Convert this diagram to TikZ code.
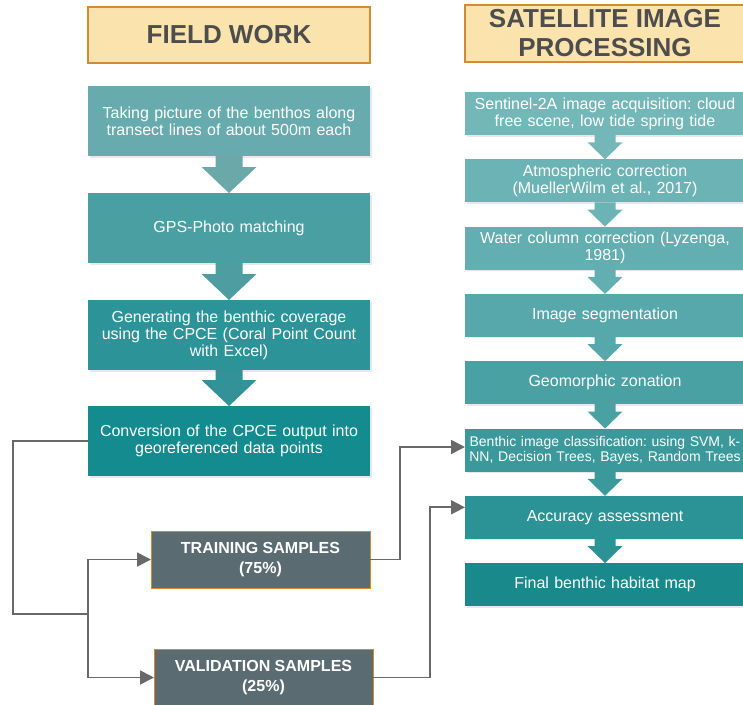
\documentclass[tikz,border=0pt]{standalone}
\usepackage{fontspec}
\setmainfont{Liberation Sans}
\usetikzlibrary{arrows.meta,positioning,calc,shadows}
\frenchspacing
\definecolor{hdrfill}{HTML}{FBE3AE}
\definecolor{hdrline}{HTML}{D68A2E}
\definecolor{hdrtext}{HTML}{4D4D4D}
\definecolor{samplefill}{HTML}{5A6B72}
\definecolor{linkgray}{HTML}{696969}
\definecolor{f1c}{HTML}{68ABAE}
\definecolor{f2c}{HTML}{4A9FA3}
\definecolor{f3c}{HTML}{2C9499}
\definecolor{f4c}{HTML}{138B8F}
\definecolor{s1c}{HTML}{74B7B9}
\definecolor{s2c}{HTML}{6CB3B5}
\definecolor{s3c}{HTML}{62AEB0}
\definecolor{s4c}{HTML}{57A8AB}
\definecolor{s5c}{HTML}{4AA1A4}
\definecolor{s6c}{HTML}{3B999C}
\definecolor{s7c}{HTML}{2B9295}
\definecolor{s8c}{HTML}{1A898C}
\tikzset{
  basic/.style  = {rectangle, outer sep=0pt, inner sep=3pt, align=center,
  font=\fontsize{16}{17}\selectfont},
  title/.style  = {basic, draw=hdrline, line width=1.4pt, fill=hdrfill, text=hdrtext,
  font=\bfseries\fontsize{26}{29}\selectfont, minimum width=282pt, minimum height=56pt},
  fstep/.style  = {basic, text=white, minimum width=282pt, text width=274pt,
  minimum height=70pt, drop shadow={shadow xshift=1.5pt, shadow yshift=-1.5pt, opacity=.18}},
  sstep/.style  = {basic, text=white, minimum width=280pt, text width=274pt,
  minimum height=43pt, drop shadow={shadow xshift=1.5pt, shadow yshift=-1.5pt, opacity=.18}},
  sample/.style = {basic, draw=hdrline, line width=1pt, fill=samplefill, text=white,
  font=\bfseries\fontsize{16}{20}\selectfont, minimum width=219pt, minimum height=57pt},
  line/.style   = {draw=linkgray, line width=1.7pt},
  link/.style   = {line, -{Triangle[length=14pt,width=14pt]}}
}
% block arrow: from, to, shaft half width, head half width, head length, colour
\newcommand{\blockarr}[6]{%
  \fill[#6] ($(#1.south)+(-#3,0pt)$) -- ($(#1.south)+(#3,0pt)$)
    -- ($(#2.north)+(#3,#5)$) -- ($(#2.north)+(#4,#5)$) -- (#2.north)
    -- ($(#2.north)+(-#4,#5)$) -- ($(#2.north)+(-#3,#5)$) -- cycle;}

\begin{document}
\begin{tikzpicture}[x=1pt, y=-1pt]
  \useasboundingbox (0,0) rectangle (743,704);

% field work column
  \node[title] (hdrL) at (229,35) {FIELD WORK};
  \node[fstep, fill=f1c] (f1) at (229,121)
    {Taking picture of the benthos along\\transect lines of about 500m each};
  \node[fstep, fill=f2c, below=37pt of f1] (f2) {GPS-Photo matching};
  \node[fstep, fill=f3c, below=37pt of f2] (f3)
    {Generating the benthic coverage\\using the CPCE (Coral Point Count\\with Excel)};
  \node[fstep, fill=f4c, below=36pt of f3] (f4)
    {Conversion of the CPCE output into\\georeferenced data points};

  \blockarr{f1}{f2}{13.5pt}{27.5pt}{26pt}{f1c!92!gray}
  \blockarr{f2}{f3}{13.5pt}{27.5pt}{26pt}{f2c!92!gray}
  \blockarr{f3}{f4}{13.5pt}{27.5pt}{26pt}{f3c!92!gray}

% samples
  \node[sample] (train) at (260.5,559.5) {TRAINING SAMPLES\\(75\%)};
  \node[sample] (valid) at (263.5,677.5) {VALIDATION SAMPLES\\(25\%)};

% satellite image processing column
  \node[title, minimum width=280pt, minimum height=57pt] (hdrR) at (605,33.5)
    {SATELLITE IMAGE\\PROCESSING};
  \node[sstep, fill=s1c] (s1) at (605,113.5)
    {Sentinel-2A image acquisition: cloud\\free scene, low tide spring tide};
  \node[sstep, fill=s2c, below=24.3pt of s1] (s2)
    {Atmospheric correction\\(MuellerWilm et al., 2017)};
  \node[sstep, fill=s3c, below=24.3pt of s2] (s3)
    {Water column correction (Lyzenga,\\1981)};
  \node[sstep, fill=s4c, below=24.3pt of s3] (s4) {Image segmentation};
  \node[sstep, fill=s5c, below=24.3pt of s4] (s5) {Geomorphic zonation};
  \node[sstep, fill=s6c, below=24.3pt of s5, font=\fontsize{14}{15}\selectfont] (s6)
    {Benthic image classification: using SVM, k-\\NN, Decision Trees, Bayes, Random Trees};
  \node[sstep, fill=s7c, below=24.3pt of s6] (s7) {Accuracy assessment};
  \node[sstep, fill=s8c, below=24.3pt of s7] (s8) {Final benthic habitat map};

  \foreach \a/\b/\c in {s1/s2/s1c, s2/s3/s2c, s3/s4/s3c, s4/s5/s4c,
                        s5/s6/s5c, s6/s7/s6c, s7/s8/s7c}
    {\blockarr{\a}{\b}{10.5pt}{17.5pt}{17pt}{\c}}

% links between the columns
  \coordinate (split) at (88,614);
  \draw[line] (f4.west) -- ++(-75,0) |- (split);
  \draw[link] (split) |- (train.west);
  \draw[link] (split) |- (valid.west);
  \draw[link] (train.east) -- ++(30,0) |- ([yshift=3pt]s6.west);
  \draw[link] (valid.east) -- ++(57,0) |- ([yshift=10pt]s7.west);
\end{tikzpicture}
\end{document}
